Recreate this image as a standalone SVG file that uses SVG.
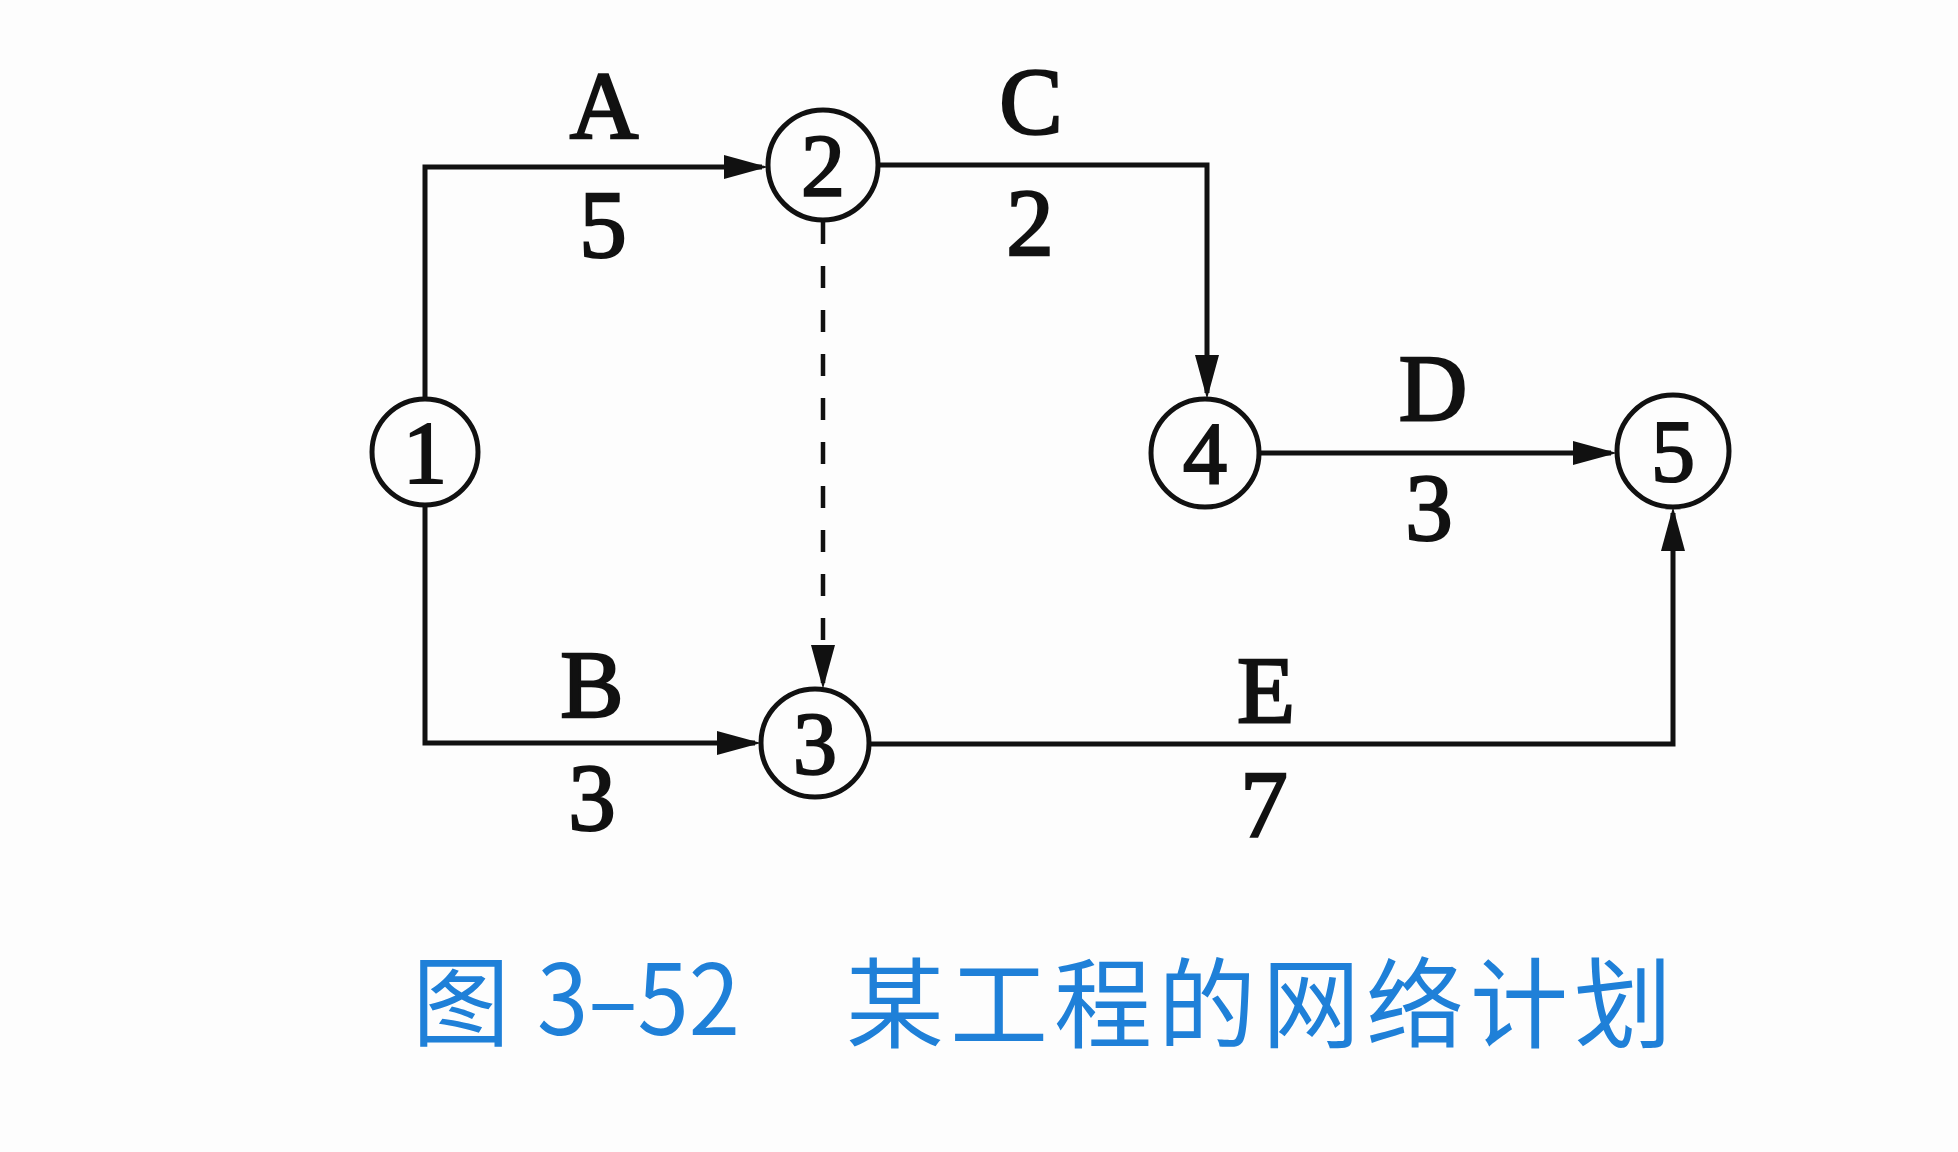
<svg xmlns="http://www.w3.org/2000/svg" width="1958" height="1152" viewBox="0 0 1958 1152">
<style>
.node circle{fill:#fdfdfd;stroke:#111;stroke-width:5}
.node text{font-family:"Liberation Serif","Times New Roman",serif;font-size:88px;fill:#111;stroke:#111;stroke-width:2.2;text-anchor:middle}
.edge{fill:none;stroke:#111;stroke-width:5}
.dash{stroke-dasharray:22 22;stroke-width:4.5}
.lbl{font-family:"Liberation Serif","Times New Roman",serif;font-size:95px;fill:#111;stroke:#111;stroke-width:2.4;text-anchor:middle}
.cap{font-family:"Noto Sans CJK SC","Noto Sans",sans-serif;font-size:98px;fill:#1f80d8}
</style>
<defs>
<marker id="arr" markerUnits="userSpaceOnUse" markerWidth="46" markerHeight="26" refX="38" refY="12" orient="auto">
<path d="M0,0 L44,12 L0,24 z" fill="#111"/>
</marker>
</defs>
<rect width="1958" height="1152" fill="#fdfdfd"/>
<g id="connectors">
<path class="edge" d="M425,399 V167 H762" marker-end="url(#arr)"/>
<path class="edge" d="M878,165 H1207 V393" marker-end="url(#arr)"/>
<path class="edge" d="M1259,453 H1611" marker-end="url(#arr)"/>
<path class="edge dash" d="M823,222 V683" marker-end="url(#arr)"/>
<path class="edge" d="M425,505 V743 H755" marker-end="url(#arr)"/>
<path class="edge" d="M869,744 H1673 V513" marker-end="url(#arr)"/>
</g>
<g id="labels">
<text class="lbl" x="604" y="138">A</text>
<text class="lbl" x="603" y="257">5</text>
<text class="lbl" x="1031" y="134">C</text>
<text class="lbl" x="1030" y="255">2</text>
<text class="lbl" x="1433" y="421">D</text>
<text class="lbl" x="1429" y="540">3</text>
<text class="lbl" x="592" y="717">B</text>
<text class="lbl" x="592" y="830">3</text>
<text class="lbl" x="1266" y="723">E</text>
<text class="lbl" x="1264" y="837">7</text>
</g>
<g id="n1" class="node"><circle cx="425" cy="452" r="53"/><text x="425" y="482">1</text></g>
<g id="n2" class="node"><circle cx="823" cy="165" r="55"/><text x="823" y="195">2</text></g>
<g id="n3" class="node"><circle cx="815" cy="743" r="54"/><text x="815" y="773">3</text></g>
<g id="n4" class="node"><circle cx="1205" cy="453" r="54"/><text x="1205" y="483">4</text></g>
<g id="n5" class="node"><circle cx="1673" cy="451" r="56"/><text x="1673" y="481">5</text></g>
<g id="caption">
<text class="cap" x="412" y="1038">图</text>
<text class="cap" x="537" y="1035" textLength="203" lengthAdjust="spacingAndGlyphs">3–52</text>
<text class="cap" x="846" y="1040" textLength="826">某工程的网络计划</text>
</g>
</svg>
